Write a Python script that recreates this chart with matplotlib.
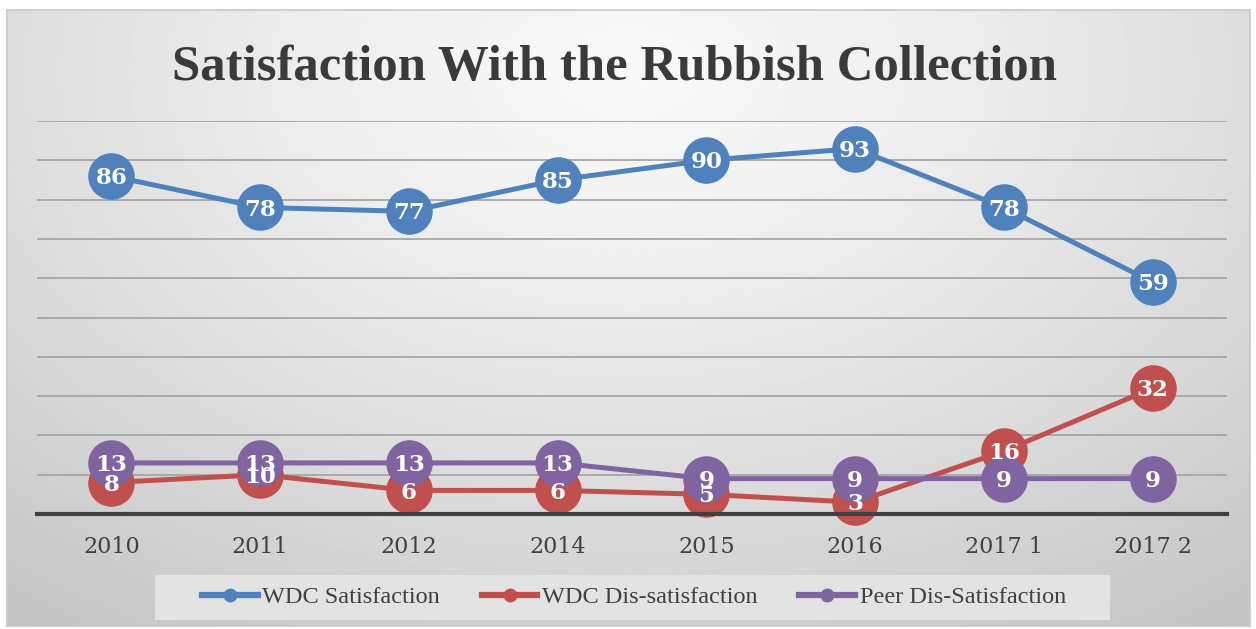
import numpy as np
import matplotlib.pyplot as plt
from matplotlib.lines import Line2D
from matplotlib.patches import Rectangle

# data
years = ['2010', '2011', '2012', '2014', '2015', '2016', '2017 1', '2017 2']
wdc_sat = [86, 78, 77, 85, 90, 93, 78, 59]
wdc_dissat = [8, 10, 6, 6, 5, 3, 16, 32]
peer_dissat = [13, 13, 13, 13, 9, 9, 9, 9]

series = [
    ('WDC Satisfaction', wdc_sat, '#4f81bd'),
    ('WDC Dis-satisfaction', wdc_dissat, '#c0504d'),
    ('Peer Dis-Satisfaction', peer_dissat, '#8064a2'),
]

W, H = 1256, 629
fig = plt.figure(figsize=(W / 100, H / 100), dpi=100)
fig.patch.set_facecolor('white')

# radial grey gradient background inside a thin border
bg = fig.add_axes([7 / W, 1 - 626 / H, (1250 - 7) / W, (626 - 10) / H])
yy, xx = np.mgrid[0:1:300j, 0:1:600j]
r = np.sqrt(((xx - 0.5) * 1.0) ** 2 + ((yy - 0.1) * 0.75) ** 2)
r = r / r.max()
shade = 0.975 - 0.21 * r ** 1.3
bg.imshow(shade, cmap='gray', vmin=0, vmax=1, aspect='auto', extent=[0, 1, 1, 0])
bg.set_xticks([])
bg.set_yticks([])
for s in bg.spines.values():
    s.set_color('#c8c8c8')
    s.set_linewidth(1.2)

ax = fig.add_axes([37 / W, 1 - 514 / H, (1227 - 37) / W, (514 - 121) / H])
ax.patch.set_alpha(0)
x = np.arange(len(years))

for name, vals, col in series:
    ax.plot(x, vals, color=col, lw=3.6, marker='o', ms=32.5, mec=col, mfc=col,
            clip_on=False, zorder=3)
    for xi, v in zip(x, vals):
        ax.annotate(str(v), (xi, v), xytext=(0, -1.5), textcoords='offset points',
                    ha='center', va='center', color='white',
                    fontsize=16.5, fontweight='bold', family='DejaVu Serif',
                    zorder=5)

ax.set_xlim(-0.5, len(years) - 0.5)
ax.set_ylim(0, 100)
ax.set_yticks(np.arange(0, 101, 10))
ax.yaxis.grid(True, color='#a6a6a6', lw=1.3)
ax.set_axisbelow(True)
ax.tick_params(axis='y', left=False, labelleft=False)
ax.tick_params(axis='x', length=0, pad=16, labelsize=16, labelcolor='#404040')
ax.set_xticks(x)
ax.set_xticklabels(years, family='DejaVu Serif')
for side in ['top', 'right', 'left']:
    ax.spines[side].set_visible(False)
ax.spines['bottom'].set_color('#404040')
ax.spines['bottom'].set_linewidth(3)
ax.spines['bottom'].set_zorder(4)

fig.text(615 / W, 1 - 68 / H, 'Satisfaction With the Rubbish Collection',
         ha='center', va='center', fontsize=36.5, fontweight='bold',
         family='Liberation Serif', color='#3a3a3a')

# legend
fig.patches.append(Rectangle((155 / W, 1 - 620 / H), (1110 - 155) / W, 45 / H,
                             transform=fig.transFigure, facecolor='#e3e3e3',
                             edgecolor='none', zorder=1))
handles = [Line2D([], [], color=c, lw=4.5, marker='o', ms=9) for _, _, c in series]
fig.legend(handles, [n for n, _, _ in series], loc='center',
           bbox_to_anchor=(634 / W, 1 - 597 / H), ncol=3, frameon=False,
           prop={'family': 'Liberation Serif', 'size': 17.5},
           handlelength=2.3, handletextpad=0.2, columnspacing=1.7,
           labelcolor='#404040')

fig.savefig('out.png', dpi=100)
